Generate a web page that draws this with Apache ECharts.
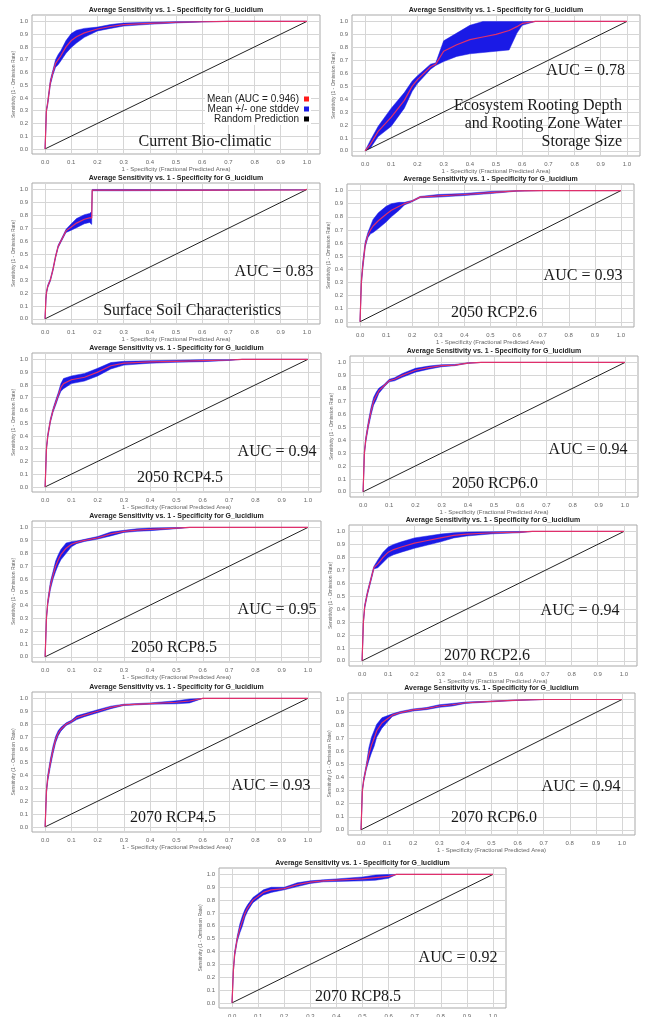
<!DOCTYPE html>
<html>
<head>
<meta charset="utf-8">
<script src="https://cdn.jsdelivr.net/npm/echarts@6/dist/echarts.min.js"></script>
<style>
  html, body { margin: 0; padding: 0; background: #fff; }
  #main { width: 645px; height: 1017px; }
</style>
</head>
<body>
<div id="main"></div>
<script>
// tick values shared by all panels
const tickValues = [0, 0.1, 0.2, 0.3, 0.4, 0.5, 0.6, 0.7, 0.8, 0.9, 1.0];
const randomLine = [[0, 0], [1, 1]];

// Current Bio-climatic
const bioX    = [0, 0.005, 0.01, 0.02, 0.03, 0.04, 0.05, 0.06, 0.08, 0.1, 0.12, 0.15, 0.2, 0.25, 0.3, 0.4, 0.5, 0.6, 0.7, 1.0];
const bioMean = [0, 0.30, 0.36, 0.52, 0.60, 0.67, 0.70, 0.73, 0.80, 0.85, 0.88, 0.91, 0.94, 0.96, 0.975, 0.985, 0.993, 0.997, 1.0, 1.0];
const bioSd   = [0, 0.01, 0.015, 0.02, 0.02, 0.03, 0.04, 0.04, 0.05, 0.055, 0.05, 0.035, 0.015, 0.015, 0.012, 0.008, 0.005, 0.002, 0, 0];

// Ecosystem rooting depth
const rootX    = [0, 0.02, 0.05, 0.1, 0.15, 0.18, 0.2, 0.25, 0.27, 0.3, 0.35, 0.4, 0.45, 0.5, 0.55, 0.58, 0.6, 0.65, 1.0];
const rootMean = [0, 0.05, 0.15, 0.26, 0.39, 0.5, 0.55, 0.65, 0.67, 0.77, 0.82, 0.86, 0.88, 0.9, 0.93, 0.96, 0.985, 1.0, 1.0];
const rootSd   = [0, 0.03, 0.04, 0.07, 0.06, 0.04, 0.03, 0.02, 0.01, 0.08, 0.09, 0.11, 0.12, 0.13, 0.15, 0.05, 0.015, 0, 0];

// Surface soil
const soilX    = [0, 0.003, 0.005, 0.01, 0.02, 0.03, 0.04, 0.05, 0.06, 0.08, 0.1, 0.12, 0.15, 0.17, 0.178, 0.18, 0.3, 0.6, 0.99, 1.0];
const soilMean = [0, 0.15, 0.2, 0.25, 0.3, 0.38, 0.48, 0.56, 0.6, 0.68, 0.71, 0.74, 0.77, 0.78, 0.78, 0.995, 0.995, 0.995, 0.997, 1.0];
const soilSd   = [0, 0.01, 0.01, 0.01, 0.01, 0.01, 0.01, 0.01, 0.01, 0.012, 0.025, 0.035, 0.035, 0.035, 0.05, 0.005, 0.005, 0.003, 0, 0];

// 2050 RCP2.6
const r5026X    = [0, 0.005, 0.01, 0.02, 0.03, 0.04, 0.05, 0.07, 0.1, 0.12, 0.15, 0.17, 0.2, 0.23, 0.3, 0.4, 0.5, 0.6, 0.7, 1.0];
const r5026Mean = [0, 0.3, 0.42, 0.59, 0.66, 0.7, 0.73, 0.77, 0.82, 0.85, 0.88, 0.9, 0.92, 0.95, 0.96, 0.97, 0.985, 0.997, 1, 1];
const r5026Sd   = [0, 0.02, 0.03, 0.02, 0.02, 0.03, 0.05, 0.06, 0.06, 0.05, 0.03, 0.01, 0.005, 0.005, 0.01, 0.008, 0.008, 0.002, 0, 0];

// 2050 RCP4.5
const r5045X    = [0, 0.005, 0.01, 0.02, 0.03, 0.04, 0.05, 0.06, 0.07, 0.1, 0.15, 0.2, 0.25, 0.3, 0.4, 0.5, 0.6, 0.7, 0.75, 1.0];
const r5045Mean = [0, 0.3, 0.4, 0.52, 0.6, 0.66, 0.72, 0.78, 0.81, 0.84, 0.86, 0.9, 0.95, 0.97, 0.98, 0.985, 0.99, 0.995, 1, 1];
const r5045Sd   = [0, 0.01, 0.015, 0.015, 0.015, 0.02, 0.02, 0.03, 0.04, 0.03, 0.03, 0.03, 0.025, 0.015, 0.01, 0.008, 0.008, 0.003, 0, 0];

// 2050 RCP6.0
const r5060X    = [0, 0.005, 0.01, 0.02, 0.03, 0.04, 0.05, 0.06, 0.08, 0.1, 0.12, 0.15, 0.2, 0.25, 0.3, 0.35, 0.4, 0.45, 1.0];
const r5060Mean = [0, 0.3, 0.4, 0.52, 0.62, 0.7, 0.74, 0.78, 0.82, 0.86, 0.87, 0.9, 0.94, 0.96, 0.975, 0.98, 0.995, 1, 1];
const r5060Sd   = [0, 0.01, 0.02, 0.025, 0.03, 0.03, 0.03, 0.02, 0.01, 0.01, 0.012, 0.015, 0.015, 0.012, 0.008, 0.005, 0.002, 0, 0];

// 2050 RCP8.5
const r5085X    = [0, 0.005, 0.01, 0.02, 0.03, 0.04, 0.05, 0.06, 0.08, 0.1, 0.12, 0.15, 0.2, 0.25, 0.3, 0.35, 0.4, 0.5, 0.55, 1.0];
const r5085Mean = [0, 0.3, 0.42, 0.55, 0.63, 0.7, 0.75, 0.79, 0.84, 0.87, 0.885, 0.9, 0.92, 0.95, 0.97, 0.98, 0.985, 0.995, 1, 1];
const r5085Sd   = [0, 0.01, 0.02, 0.03, 0.03, 0.04, 0.04, 0.04, 0.04, 0.02, 0.01, 0.008, 0.01, 0.015, 0.008, 0.01, 0.01, 0.004, 0, 0];

// 2070 RCP2.6
const r7026X    = [0, 0.005, 0.01, 0.02, 0.03, 0.04, 0.045, 0.06, 0.08, 0.1, 0.12, 0.15, 0.2, 0.25, 0.3, 0.35, 0.4, 0.5, 0.6, 0.65, 1.0];
const r7026Mean = [0, 0.3, 0.42, 0.52, 0.6, 0.68, 0.72, 0.75, 0.8, 0.84, 0.86, 0.88, 0.91, 0.93, 0.95, 0.97, 0.98, 0.99, 0.995, 1, 1];
const r7026Sd   = [0, 0.01, 0.015, 0.015, 0.015, 0.015, 0.01, 0.03, 0.04, 0.04, 0.04, 0.04, 0.04, 0.035, 0.03, 0.02, 0.015, 0.008, 0.005, 0, 0];

// 2070 RCP4.5
const r7045X    = [0, 0.005, 0.01, 0.02, 0.03, 0.04, 0.05, 0.06, 0.08, 0.1, 0.12, 0.15, 0.2, 0.25, 0.3, 0.4, 0.5, 0.55, 0.6, 1.0];
const r7045Mean = [0, 0.28, 0.38, 0.5, 0.6, 0.68, 0.73, 0.76, 0.8, 0.82, 0.85, 0.87, 0.9, 0.93, 0.95, 0.96, 0.97, 0.98, 1, 1];
const r7045Sd   = [0, 0.02, 0.025, 0.03, 0.03, 0.025, 0.02, 0.015, 0.01, 0.01, 0.015, 0.012, 0.012, 0.01, 0.005, 0.005, 0.012, 0.015, 0, 0];

// 2070 RCP6.0
const r7060X    = [0, 0.005, 0.01, 0.02, 0.03, 0.04, 0.05, 0.06, 0.08, 0.1, 0.12, 0.15, 0.2, 0.25, 0.3, 0.35, 0.4, 0.5, 0.6, 0.7, 1.0];
const r7060Mean = [0, 0.3, 0.38, 0.48, 0.58, 0.65, 0.7, 0.76, 0.82, 0.85, 0.88, 0.9, 0.92, 0.93, 0.95, 0.96, 0.975, 0.985, 0.995, 1, 1];
const r7060Sd   = [0, 0.01, 0.015, 0.02, 0.05, 0.06, 0.06, 0.05, 0.04, 0.025, 0.01, 0.008, 0.008, 0.008, 0.01, 0.01, 0.005, 0.003, 0.002, 0, 0];

// 2070 RCP8.5
const r7085X    = [0, 0.005, 0.01, 0.02, 0.03, 0.04, 0.05, 0.06, 0.08, 0.1, 0.12, 0.15, 0.2, 0.25, 0.3, 0.35, 0.4, 0.5, 0.55, 0.6, 0.63, 1.0];
const r7085Mean = [0, 0.25, 0.38, 0.5, 0.58, 0.64, 0.7, 0.74, 0.8, 0.83, 0.86, 0.88, 0.89, 0.92, 0.94, 0.95, 0.955, 0.965, 0.975, 0.985, 1, 1];
const r7085Sd   = [0, 0.01, 0.02, 0.02, 0.035, 0.04, 0.03, 0.025, 0.02, 0.02, 0.02, 0.02, 0.01, 0.015, 0.01, 0.008, 0.01, 0.015, 0.02, 0.015, 0, 0];

const meanColor = '#e0306a';
const bandColor = '#1a1ae6';
const titleText = 'Average Sensitivity vs. 1 - Specificity for G_lucidium';

// frame = [left, top, right, bottom] of each plot box
const panels = [
  { x: bioX, mean: bioMean, sd: bioSd, frame: [32, 15, 320, 154],
    notes: [['Current Bio-climatic', 205, 142, 'center']] },
  { x: rootX, mean: rootMean, sd: rootSd, frame: [352, 15, 640, 156],
    notes: [['AUC = 0.78', 625, 71, 'right'], ['Ecosystem Rooting Depth', 622, 106, 'right'],
            ['and Rooting Zone Water', 622, 124, 'right'], ['Storage Size', 622, 142, 'right']] },
  { x: soilX, mean: soilMean, sd: soilSd, frame: [32, 183, 320, 324],
    notes: [['AUC = 0.83', 274, 272, 'center'], ['Surface Soil Characteristics', 192, 311, 'center']] },
  { x: r5026X, mean: r5026Mean, sd: r5026Sd, frame: [347, 184, 634, 327],
    notes: [['AUC = 0.93', 583, 276, 'center'], ['2050 RCP2.6', 494, 313, 'center']] },
  { x: r5045X, mean: r5045Mean, sd: r5045Sd, frame: [32, 353, 321, 492],
    notes: [['AUC = 0.94', 277, 452, 'center'], ['2050 RCP4.5', 180, 478, 'center']] },
  { x: r5060X, mean: r5060Mean, sd: r5060Sd, frame: [350, 356, 638, 497],
    notes: [['AUC = 0.94', 588, 450, 'center'], ['2050 RCP6.0', 495, 484, 'center']] },
  { x: r5085X, mean: r5085Mean, sd: r5085Sd, frame: [32, 521, 321, 662],
    notes: [['AUC = 0.95', 277, 610, 'center'], ['2050 RCP8.5', 174, 648, 'center']] },
  { x: r7026X, mean: r7026Mean, sd: r7026Sd, frame: [349, 525, 637, 666],
    notes: [['AUC = 0.94', 580, 611, 'center'], ['2070 RCP2.6', 487, 656, 'center']] },
  { x: r7045X, mean: r7045Mean, sd: r7045Sd, frame: [32, 692, 321, 832],
    notes: [['AUC = 0.93', 271, 786, 'center'], ['2070 RCP4.5', 173, 818, 'center']] },
  { x: r7060X, mean: r7060Mean, sd: r7060Sd, frame: [348, 693, 635, 835],
    notes: [['AUC = 0.94', 581, 787, 'center'], ['2070 RCP6.0', 494, 818, 'center']] },
  { x: r7085X, mean: r7085Mean, sd: r7085Sd, frame: [219, 868, 506, 1008],
    notes: [['AUC = 0.92', 458, 958, 'center'], ['2070 RCP8.5', 358, 997, 'center']] }
];

function bandRenderer(x, lo, hi) {
  return function (params, api) {
    if (params.dataIndex !== 0) return null;
    const pts = [];
    for (let j = 0; j < x.length; j++) pts.push(api.coord([x[j], hi[j]]));
    for (let j = x.length - 1; j >= 0; j--) pts.push(api.coord([x[j], lo[j]]));
    return {
      type: 'polygon',
      shape: { points: pts },
      style: { fill: bandColor, stroke: bandColor, lineWidth: 0.5 }
    };
  };
}

const grids = [], xAxes = [], yAxes = [], series = [], graphics = [];
const labelFmt = v => v.toFixed(1);

panels.forEach((p, i) => {
  const [l, t, r, b] = p.frame;
  grids.push({
    left: l, top: t, width: r - l, height: b - t, show: true,
    outerBoundsMode: 'none', containLabel: false,
    borderColor: '#a9a9a9', borderWidth: 1, backgroundColor: '#fff'
  });
  const axisBase = {
    type: 'value',
    gridIndex: i,
    axisLine: { show: false },
    axisTick: { show: false, customValues: tickValues },
    axisLabel: { customValues: tickValues, formatter: labelFmt, fontSize: 6, color: '#666', fontFamily: 'Liberation Sans' },
    splitLine: { show: true, lineStyle: { color: '#d6d6d6', width: 1 } },
    nameLocation: 'middle',
    nameTextStyle: { fontSize: 6, color: '#666', fontFamily: 'Liberation Sans' }
  };
  xAxes.push(Object.assign({}, axisBase, {
    min: -0.05, max: 1.05,
    axisLabel: Object.assign({}, axisBase.axisLabel, { margin: 5 }),
    name: '1 - Specificity (Fractional Predicted Area)', nameGap: 12
  }));
  yAxes.push(Object.assign({}, axisBase, {
    min: -0.04, max: 1.05,
    axisLabel: Object.assign({}, axisBase.axisLabel, { margin: 4 }),
    name: 'Sensitivity (1 - Omission Rate)', nameGap: 15,
    nameTextStyle: { fontSize: 5, color: '#666', fontFamily: 'Liberation Sans' }
  }));

  const lo = p.mean.map((m, j) => Math.max(0, m - p.sd[j]));
  const hi = p.mean.map((m, j) => Math.min(1, m + p.sd[j]));
  const first = i === 0;

  series.push({
    name: first ? 'Mean +/- one stddev' : 'band ' + i,
    type: 'custom',
    xAxisIndex: i, yAxisIndex: i,
    itemStyle: { color: bandColor },
    renderItem: bandRenderer(p.x, lo, hi),
    data: p.x.map((v, j) => [v, lo[j], hi[j]]),
    encode: { x: 0, y: [1, 2] },
    z: 2, silent: true
  });
  series.push({
    name: first ? 'Random Prediction' : 'random ' + i,
    type: 'line',
    xAxisIndex: i, yAxisIndex: i,
    data: randomLine,
    showSymbol: false,
    itemStyle: { color: '#000' },
    lineStyle: { color: '#222', width: 1 },
    z: 3, silent: true
  });
  series.push({
    name: first ? 'Mean (AUC = 0.946)' : 'mean ' + i,
    type: 'line',
    xAxisIndex: i, yAxisIndex: i,
    data: p.x.map((v, j) => [v, p.mean[j]]),
    showSymbol: false,
    itemStyle: { color: '#ff1a1a' },
    lineStyle: { color: meanColor, width: 1.2 },
    z: 4, silent: true
  });

  graphics.push({
    type: 'text', x: (l + r) / 2, y: t - 5, z: 10,
    style: { text: titleText, align: 'center', verticalAlign: 'middle',
             font: 'bold 7px "Liberation Sans"', fill: '#222' }
  });
  p.notes.forEach(n => {
    graphics.push({
      type: 'text', x: n[1], y: n[2], z: 10,
      style: { text: n[0], align: n[3], verticalAlign: 'middle',
               font: '16px "Liberation Serif"', fill: '#1a1a1a' }
    });
  });
});

const chart = echarts.init(document.getElementById('main'));
chart.setOption({
  backgroundColor: '#fff',
  animation: false,
  grid: grids,
  xAxis: xAxes,
  yAxis: yAxes,
  legend: {
    data: ['Mean (AUC = 0.946)', 'Mean +/- one stddev', 'Random Prediction'],
    orient: 'vertical',
    align: 'right',
    right: 334, top: 93,
    icon: 'rect', itemWidth: 5, itemHeight: 5, itemGap: 0,
    padding: [1, 2],
    backgroundColor: '#fff',
    selectedMode: false,
    textStyle: { fontSize: 10, lineHeight: 9.5, color: '#222', fontFamily: 'Liberation Sans', padding: 0 }
  },
  graphic: graphics,
  series: series
});
</script>
</body>
</html>
